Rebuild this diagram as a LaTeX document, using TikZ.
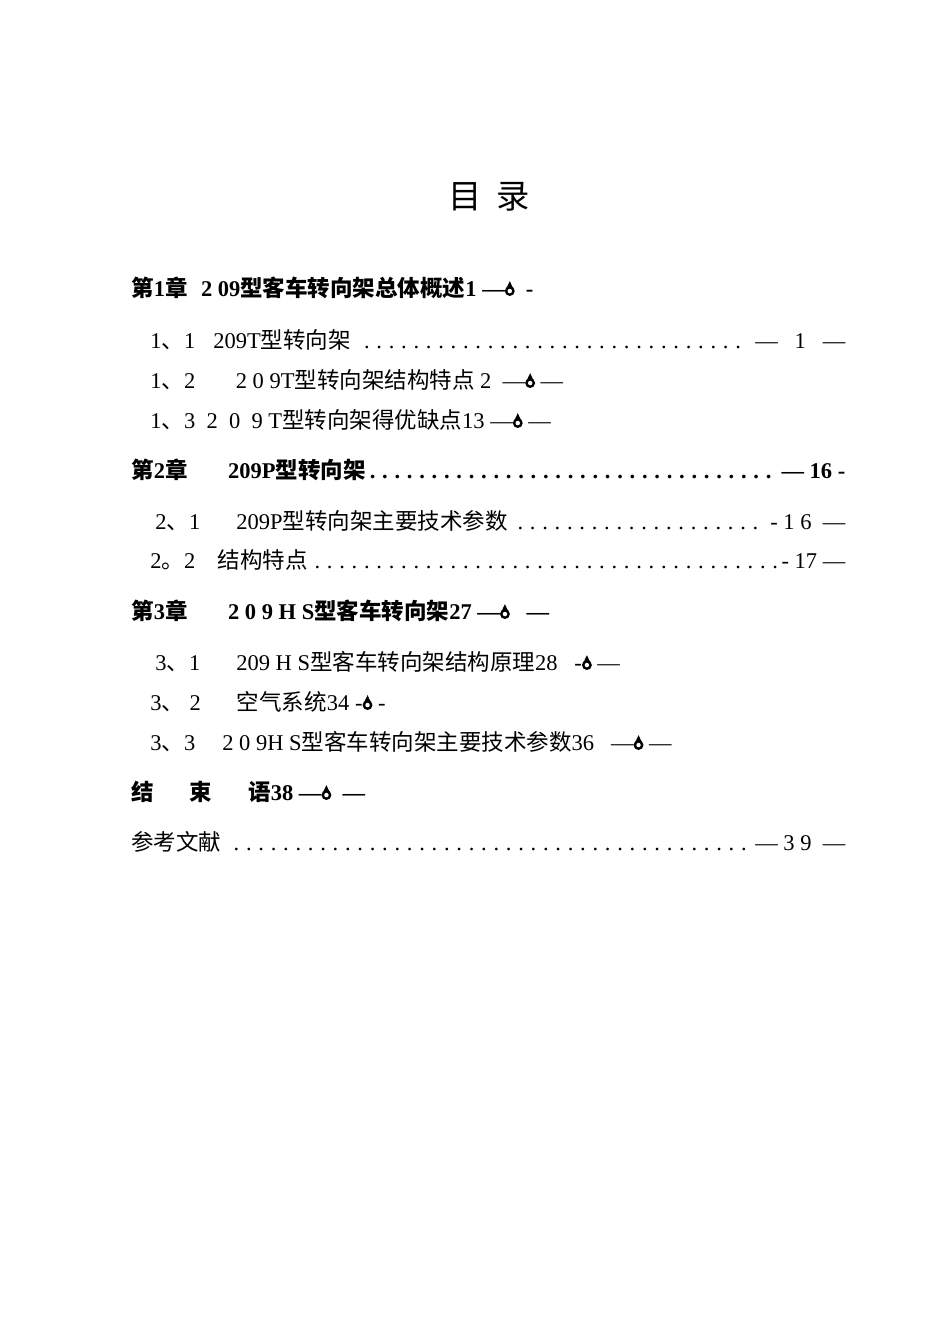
\documentclass[tikz,border=0pt]{standalone}
\usepackage{fontspec}
\setmainfont{Liberation Serif}
\newfontfamily\cjk{Noto Sans CJK SC}
\newcommand{\drp}[1][0.22em]{\tikz[baseline=0pt]{\fill (0,#1) circle (#1); \fill (-0.8*#1,1.3*#1) -- (0,3*#1) -- (0.8*#1,1.3*#1) -- cycle; \fill[white] (0,#1) circle (0.45*#1);}}
\newcommand{\lead}{\leaders\hbox to 0.55em{\hss.\hss}\hfill}
\begin{document}
\begin{tikzpicture}[x=0.6pt,y=-0.6pt]
\tikzset{
 row/.style={anchor=base west,inner sep=0pt,font=\fontsize{13.5}{15}\selectfont},
 head/.style={row,font=\fontsize{13.5}{15}\selectfont\bfseries}}
\fill[white] (0,0) rectangle (950,1342);
\useasboundingbox (0,0) rectangle (950,1342);
\node[anchor=base,inner sep=0pt,font=\cjk\fontsize{20}{24}\selectfont] (t) at (489,208) {目\hspace{0.45em}录};
\node[head] (c1) at (131,296) {{\cjk\bfseries 第}1{\cjk\bfseries 章}\hspace{0.6em}2 09{\cjk\bfseries 型客车转向架总体概述}1 —\drp\ \ -};
\node[row] (c1a) at (150,348) {\makebox[417pt][l]{1{\cjk 、}1\hspace{0.8em}209T{\cjk 型转向架}\lead— \ \ 1 \ \ —}};
\node[row] (c1b) at (150,388) {1{\cjk 、}2\hspace{1.8em}2\ 0\ 9T{\cjk 型转向架结构特点} 2\ \ —\drp\ —};
\node[row] (c1c) at (150,428) {1{\cjk 、}3\ \ 2\ \ 0\ \ 9\ T{\cjk 型转向架得优缺点}13 —\drp\ —};
\node[head] (c2) at (131,478) {\makebox[428.4pt][l]{{\cjk\bfseries 第}2{\cjk\bfseries 章}\hspace{1.8em}209P{\cjk\bfseries 型转向架}\lead— 16 -}};
\node[row] (c2a) at (155,529) {\makebox[414pt][l]{2{\cjk 、}1\hspace{1.6em}209P{\cjk 型转向架主要技术参数}\lead - 1 6 \ —}};
\node[row] (c2b) at (150,568) {\makebox[417pt][l]{2{\cjk 。}2\hspace{1em}{\cjk 结构特点}\lead - 17 —}};
\node[head] (c3) at (131,619) {{\cjk\bfseries 第}3{\cjk\bfseries 章}\hspace{1.8em}2\ 0\ 9\ H\ S{\cjk\bfseries 型客车转向架}27 —\drp\ \ \ —};
\node[row] (c3a) at (155,670) {3{\cjk 、}1\hspace{1.6em}209 H S{\cjk 型客车转向架结构原理}28\ \ \ -\drp\ —};
\node[row] (c3b) at (150,710) {3{\cjk 、}\ 2\hspace{1.6em}{\cjk 空气系统}34 -\drp\ -};
\node[row] (c3c) at (150,750) {3{\cjk 、}3\hspace{1.2em}2\ 0\ 9H S{\cjk 型客车转向架主要技术参数}36\ \ \ —\drp\ —};
\node[head] (end) at (131,800) {{\cjk\bfseries 结}\hspace{1.6em}{\cjk\bfseries 束}\hspace{1.6em}{\cjk\bfseries 语}38 —\drp\ \ —};
\node[row] (ref) at (131,850) {\makebox[428.4pt][l]{{\cjk 参考文献}\lead— 3 9 \ —}};
\end{tikzpicture}
\end{document}
